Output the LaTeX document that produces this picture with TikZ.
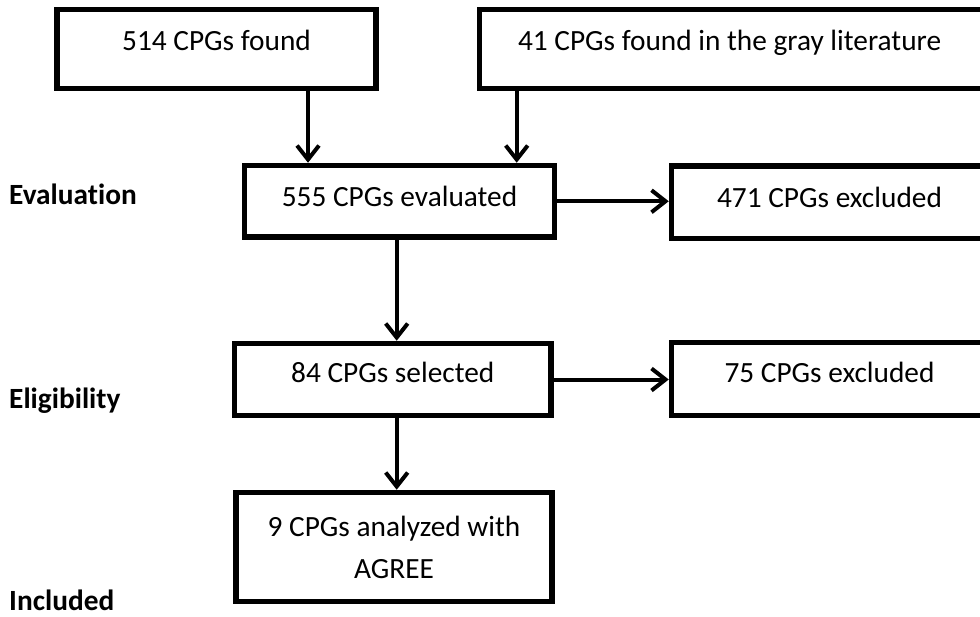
\documentclass[tikz,border=0pt]{standalone}
\usepackage{fontspec}
\setmainfont{Carlito}[Ligatures=NoCommon]
\usetikzlibrary{arrows.meta}
\tikzset{>={Straight Barb[length=14pt,width=22pt]}}
\tikzset{
    stage/.style={draw, line width=5.5pt, inner ysep=0pt, font=\fontsize{29.33}{42}\selectfont},
    phase/.style={anchor=base west, inner sep=0pt, font=\fontsize{29.33}{35}\selectfont\bfseries},
    flow/.style={->, line width=4pt}
}

\begin{document}
\begin{tikzpicture}[x=1pt, y=-1pt]
                \useasboundingbox (0,0) rectangle (980,616);
                \clip (0,0) rectangle (980,616);

                % sources
                \node[stage, minimum width=319pt, text height=40.5pt, text depth=38.5pt] (found) at (216.5,49) {514 CPGs found};
                \node[stage, inner xsep=38.5pt, text width=443.5pt, align=flush left, text height=40.5pt, text depth=38.5pt] (gray) at (739.75,49) {41 CPGs found in the gray literature};

                % evaluation row
                \node[stage, minimum width=310pt, text height=40.5pt, text depth=31pt] (evaluated) at (399.5,201.25) {555 CPGs evaluated};
                \node[stage, minimum width=316pt, text height=41pt, text depth=31.5pt] (excluded) at (829.5,202.25) {471 CPGs excluded};

                % eligibility row
                \node[stage, minimum width=316.5pt, text height=38.5pt, text depth=33.5pt] (selected) at (392.75,379.5) {84 CPGs selected};
                \node[stage, minimum width=316pt, text height=39.5pt, text depth=33.5pt] (rejected) at (829.5,379) {75 CPGs excluded};

                % included
                \node[stage, minimum width=316pt, minimum height=109pt, align=center] (analyzed) at (394,547) {9 CPGs analyzed with\\AGREE};

                % phase labels
                \node[phase] (evaluation) at (9,204) {Evaluation};
                \node[phase] (eligibility) at (9,408) {Eligibility};
                \node[phase] (included) at (9,610) {Included};

                \coordinate (db) at (308,0);
                \coordinate (grey) at (516.7,0);
                \coordinate (spine) at (396.7,0);

                % found to evaluated
                \draw[flow] (db |- found.south) -- (db |- evaluated.north);
                % gray to evaluated
                \draw[flow] (grey |- gray.south) -- (grey |- evaluated.north);
                % evaluated to excluded
                \draw[flow] (evaluated.east) -- (evaluated.east -| excluded.west);
                % evaluated to selected
                \draw[flow] (spine |- evaluated.south) -- (spine |- selected.north);
                % selected to excluded
                \draw[flow] (selected.east) -- (selected.east -| rejected.west);
                % selected to analyzed
                \draw[flow] (spine |- selected.south) -- (spine |- analyzed.north);
            \end{tikzpicture}
\end{document}
